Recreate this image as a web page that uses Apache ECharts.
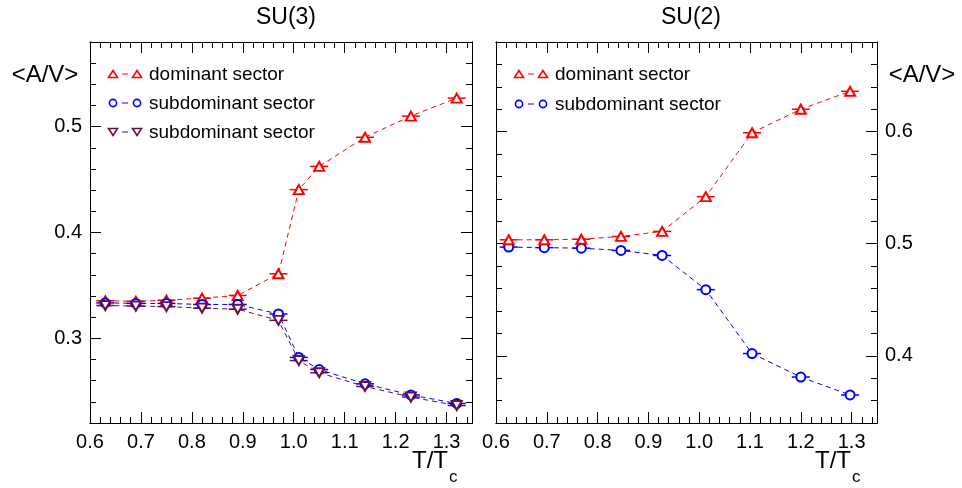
<!DOCTYPE html>
<html>
<head>
<meta charset="utf-8">
<script src="https://cdn.jsdelivr.net/npm/echarts@6/dist/echarts.min.js"></script>
<style>
html, body { margin: 0; padding: 0; background: #fff; }
#chart { width: 962px; height: 488px; }
</style>
</head>
<body>
<div id="chart"></div>
<script>
// SU(3) panel
var su3T = [0.63, 0.69, 0.75, 0.82, 0.89, 0.97, 1.01, 1.05, 1.14, 1.23, 1.32];
var su3Dom = [0.3355, 0.335, 0.336, 0.338, 0.3405, 0.361, 0.4405, 0.4625, 0.490, 0.510, 0.527];
var su3Sub = [0.3335, 0.333, 0.333, 0.332, 0.332, 0.323, 0.282, 0.2705, 0.257, 0.2465, 0.2385];
var su3Sub2 = [0.331, 0.3305, 0.330, 0.3285, 0.3275, 0.317, 0.279, 0.2675, 0.2545, 0.2445, 0.2365];
// SU(2) panel
var su2T = [0.625, 0.695, 0.768, 0.846, 0.927, 1.013, 1.104, 1.2, 1.297];
var su2Dom = [0.5035, 0.5035, 0.504, 0.5065, 0.511, 0.542, 0.599, 0.620, 0.636];
var su2Sub = [0.497, 0.4965, 0.496, 0.494, 0.4895, 0.459, 0.402, 0.381, 0.365];

var titles = ['SU(3)', 'SU(2)'];
var legendSU3 = ['dominant sector', 'subdominant sector', 'subdominant sector'];
var legendSU2 = ['dominant sector', 'subdominant sector'];

var RED = '#ff0000', BLUE = '#0000ff', PURPLE = '#66104a';
var FONT = 'Liberation Sans';

var myChart = echarts.init(document.getElementById('chart'));

function xAx(grid, pos, major, labels) {
  var step = major ? 0.1 : 0.02;
  return {
    type: 'value', gridIndex: grid, position: pos,
    min: 0.6, max: 1.35, minInterval: step, maxInterval: step,
    axisLine: { show: true, onZero: false, lineStyle: { color: '#000', width: 1 } },
    axisTick: { show: true, inside: true, length: major ? 11 : 6, lineStyle: { color: '#000', width: 1 } },
    axisLabel: {
      show: labels, margin: 9, color: '#000', fontSize: 20, fontFamily: FONT,
      showMaxLabel: false,
      formatter: function (v) { return v.toFixed(1); }
    },
    splitLine: { show: false }
  };
}

function yAx(grid, pos, major, labels, lo, hi) {
  var step = major ? 0.1 : 0.02;
  return {
    type: 'value', gridIndex: grid, position: pos,
    min: lo, max: hi, minInterval: step, maxInterval: step,
    axisLine: { show: true, onZero: false, lineStyle: { color: '#000', width: 1 } },
    axisTick: { show: true, inside: true, length: major ? 11 : 6, lineStyle: { color: '#000', width: 1 } },
    axisLabel: {
      show: labels, margin: 8, color: '#000', fontSize: 20, fontFamily: FONT,
      showMinLabel: false, showMaxLabel: false,
      formatter: function (v) { return v.toFixed(1); }
    },
    splitLine: { show: false }
  };
}

function lineSeries(name, xs, ys, color, symbol, rotate, idx) {
  return {
    name: name, type: 'line', xAxisIndex: idx, yAxisIndex: idx,
    data: xs.map(function (x, i) { return [x, ys[i]]; }),
    symbol: symbol, symbolSize: symbol === 'emptyCircle' ? 9 : [10, 9], symbolRotate: rotate,
    lineStyle: { color: color, width: 1, type: [5, 4] },
    itemStyle: { color: color, borderColor: color, borderWidth: 1.4 },
    z: 3
  };
}

// small horizontal error bars drawn through the markers
function errSeries(xs, ys, color, idx) {
  return {
    type: 'custom', xAxisIndex: idx, yAxisIndex: idx, silent: true, z: 2,
    data: xs.map(function (x, i) { return [x, ys[i]]; }),
    renderItem: function (params, api) {
      var p = api.coord([api.value(0), api.value(1)]);
      return {
        type: 'line',
        shape: { x1: p[0] - 9, y1: p[1], x2: p[0] + 9, y2: p[1] },
        style: { stroke: color, lineWidth: 1.5 }
      };
    }
  };
}

function legendItem(x, y, color, kind, text) {
  var els = [];
  [x, x + 24].forEach(function (cx) {
    if (kind === 'circle') {
      els.push({ type: 'circle', shape: { cx: cx, cy: y, r: 3.6 }, style: { fill: '#fff', stroke: color, lineWidth: 1.6 } });
    } else {
      var d = kind === 'up' ? 1 : -1;
      els.push({ type: 'polygon', shape: { points: [[cx - 4.5, y + 3.5 * d], [cx + 4.5, y + 3.5 * d], [cx, y - 3.5 * d]] },
        style: { fill: '#fff', stroke: color, lineWidth: 1.6 } });
    }
  });
  els.push({ type: 'line', shape: { x1: x + 9, y1: y, x2: x + 15, y2: y }, style: { stroke: color, lineWidth: 1 } });
  els.push({ type: 'text', x: x + 36, y: y + 1, style: { text: text, fontSize: 19, fontFamily: FONT, fill: '#000', verticalAlign: 'middle' } });
  return els;
}

function label(x, y, text, size, align) {
  return { type: 'text', x: x, y: y, style: { text: text, fontSize: size, fontFamily: FONT, fill: '#000', align: align || 'left', verticalAlign: 'middle' } };
}

var graphics = []
  .concat(legendItem(113, 74, RED, 'up', legendSU3[0]))
  .concat(legendItem(113, 103, BLUE, 'circle', legendSU3[1]))
  .concat(legendItem(113, 132, PURPLE, 'down', legendSU3[2]))
  .concat(legendItem(519, 74, RED, 'up', legendSU2[0]))
  .concat(legendItem(519, 104, BLUE, 'circle', legendSU2[1]))
  .concat([
    label(45, 75, '<A/V>', 24, 'center'),
    label(922, 75, '<A/V>', 24, 'center'),
    label(412, 461, 'T/T', 24),
    label(449, 477, 'c', 17),
    label(815, 461, 'T/T', 24),
    label(852, 477, 'c', 17)
  ]);

var option = {
  backgroundColor: '#fff',
  animation: false,
  title: [
    { text: titles[0], left: 281, top: 1, textAlign: 'center', textStyle: { fontSize: 23, fontWeight: 'normal', fontFamily: FONT, color: '#000' } },
    { text: titles[1], left: 686, top: 1, textAlign: 'center', textStyle: { fontSize: 23, fontWeight: 'normal', fontFamily: FONT, color: '#000' } }
  ],
  grid: [
    { left: 90, top: 42, width: 382, height: 381 },
    { left: 496, top: 42, width: 381, height: 381 }
  ],
  xAxis: [
    xAx(0, 'bottom', true, true), xAx(0, 'bottom', false, false),
    xAx(0, 'top', true, false), xAx(0, 'top', false, false),
    xAx(1, 'bottom', true, true), xAx(1, 'bottom', false, false),
    xAx(1, 'top', true, false), xAx(1, 'top', false, false)
  ],
  yAxis: [
    yAx(0, 'left', true, true, 0.22, 0.58), yAx(0, 'left', false, false, 0.22, 0.58),
    yAx(0, 'right', true, false, 0.22, 0.58), yAx(0, 'right', false, false, 0.22, 0.58),
    yAx(1, 'right', true, true, 0.34, 0.68), yAx(1, 'right', false, false, 0.34, 0.68),
    yAx(1, 'left', true, false, 0.34, 0.68), yAx(1, 'left', false, false, 0.34, 0.68)
  ],
  series: [
    errSeries(su3T, su3Sub2, PURPLE, 0),
    errSeries(su3T, su3Sub, BLUE, 0),
    errSeries(su3T, su3Dom, RED, 0),
    lineSeries('dominant sector', su3T, su3Dom, RED, 'emptyTriangle', 0, 0),
    lineSeries('subdominant sector', su3T, su3Sub, BLUE, 'emptyCircle', 0, 0),
    lineSeries('subdominant sector', su3T, su3Sub2, PURPLE, 'emptyTriangle', 180, 0),
    errSeries(su2T, su2Sub, BLUE, 4),
    errSeries(su2T, su2Dom, RED, 4),
    lineSeries('subdominant sector', su2T, su2Sub, BLUE, 'emptyCircle', 0, 4),
    lineSeries('dominant sector', su2T, su2Dom, RED, 'emptyTriangle', 0, 4)
  ],
  graphic: graphics
};

myChart.setOption(option);
window.addEventListener('resize', function () { myChart.resize(); });
</script>
</body>
</html>
